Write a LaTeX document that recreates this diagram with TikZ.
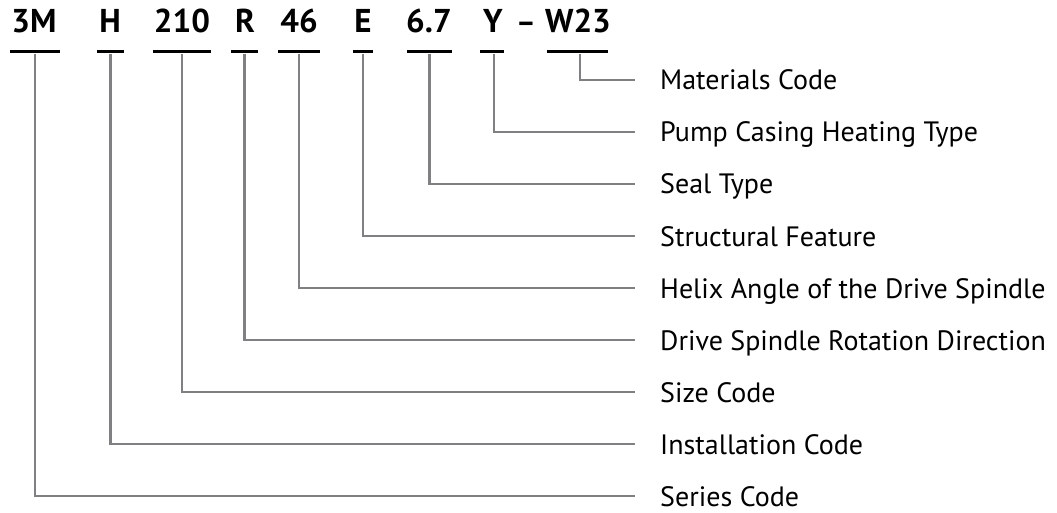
\documentclass[tikz,border=0pt]{standalone}
\usepackage{fontspec}
\setmainfont{PT Sans}
\begin{document}
\begin{tikzpicture}[x=1pt,y=-1pt,
  code/.style={anchor=base,inner sep=0pt,font=\fontsize{33}{36}\selectfont\bfseries,text=black},
  uline/.style={fill=black,draw=none,inner sep=0pt,minimum height=3pt},
  lab/.style={anchor=base west,inner sep=0pt,font=\fontsize{28}{32}\selectfont,text=black},
  conn/.style={draw={rgb,255:red,128;green,128;blue,130},line width=2.6pt}]
\useasboundingbox (0,0) rectangle (1057,513);
% codes
\node[code] (c1) at (34,33) {3M};
\node[code] (c2) at (110,33) {H};
\node[code] (c3) at (182,33) {210};
\node[code] (c4) at (245,33) {R};
\node[code] (c5) at (299,33) {46};
\node[code] (c6) at (363,33) {E};
\node[code] (c7) at (429,33) {6.7};
\node[code] (c8) at (493,33) {Y};
\node[code,font=\fontsize{30}{36}\selectfont\bfseries] (cd) at (526,33) {–};
\node[code] (c9) at (578,33) {W23};
% underlines
\node[uline,minimum width=50pt] (u1) at (35,52) {};
\node[uline,minimum width=27pt] (u2) at (110.5,52) {};
\node[uline,minimum width=58pt] (u3) at (182,52) {};
\node[uline,minimum width=27pt] (u4) at (244.5,52) {};
\node[uline,minimum width=42pt] (u5) at (299,52) {};
\node[uline,minimum width=20pt] (u6) at (363,52) {};
\node[uline,minimum width=45pt] (u7) at (429.5,52) {};
\node[uline,minimum width=24pt] (u8) at (492,52) {};
\node[uline,minimum width=61pt] (u9) at (577.5,52) {};
% labels
\node[lab] (l9) at (660,90) {Materials Code};
\node[lab] (l8) at (660,142) {Pump Casing Heating Type};
\node[lab] (l7) at (660,194) {Seal Type};
\node[lab] (l6) at (660,246) {Structural Feature};
\node[lab] (l5) at (660,298) {Helix Angle of the Drive Spindle};
\node[lab] (l4) at (660,350) {Drive Spindle Rotation Direction};
\node[lab] (l3) at (660,402) {Size Code};
\node[lab] (l2) at (660,454) {Installation Code};
\node[lab] (l1) at (660,506) {Series Code};
% end points
\coordinate (e9) at (635,80);
\coordinate (e8) at (635,132);
\coordinate (e7) at (635,184);
\coordinate (e6) at (635,236);
\coordinate (e5) at (635,288);
\coordinate (e4) at (635,340);
\coordinate (e3) at (635,392);
\coordinate (e2) at (635,444);
\coordinate (e1) at (635,496);
% connectors
\draw[conn] (u1.south) |- (e1);
\draw[conn] (u2.south) |- (e2);
\draw[conn] (u3.south) |- (e3);
\draw[conn] (u4.south) |- (e4);
\draw[conn] (u5.south) |- (e5);
\draw[conn] (u6.south) |- (e6);
\draw[conn] (u7.south) |- (e7);
\draw[conn] ([xshift=2pt]u8.south) |- (e8);
\draw[conn] ([xshift=2.5pt]u9.south) |- (e9);
\end{tikzpicture}
\end{document}
